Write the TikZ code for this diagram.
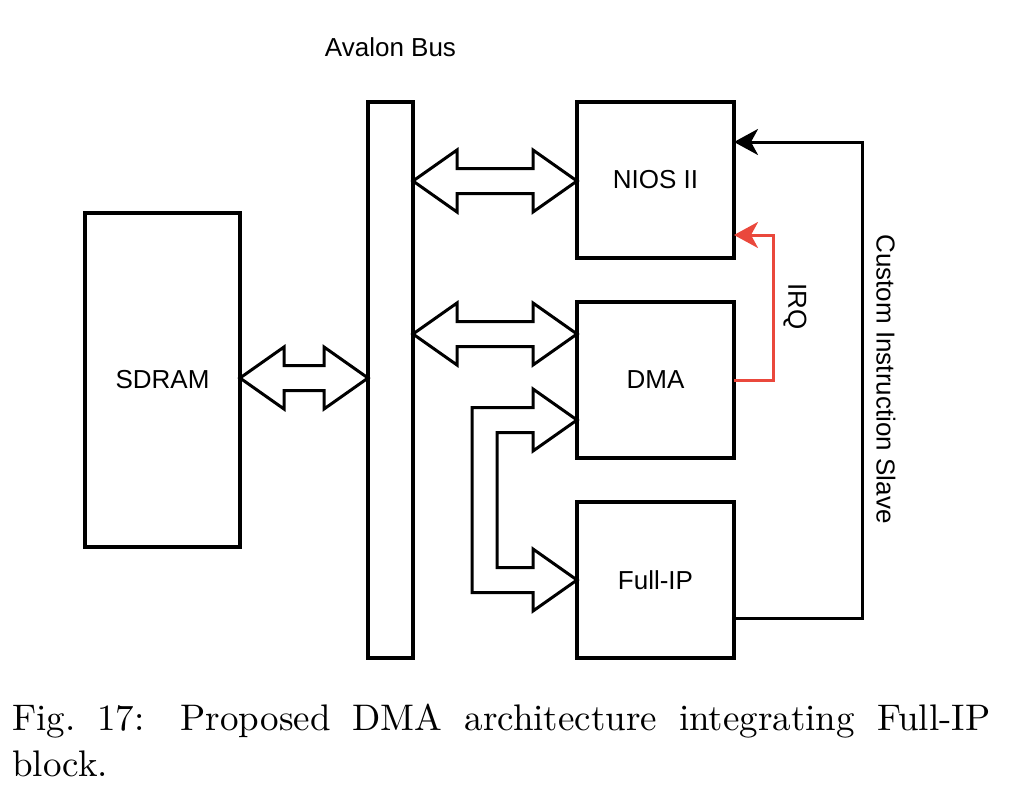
\documentclass[tikz,border=0pt]{standalone}
\usepackage{fontspec}
\newfontfamily\labfont{Liberation Sans}
\newfontfamily\capfont{lmroman10-regular.otf}
\usetikzlibrary{calc,arrows.meta}
\definecolor{irqred}{RGB}{234,72,60}
\tikzset{
  blk/.style={draw=black, line width=3.2pt, fill=white, rectangle, outer sep=0pt, inner sep=0pt,
    font=\labfont\fontsize{26}{30}\selectfont},
  lbl/.style={font=\labfont\fontsize{26}{30}\selectfont, inner sep=0pt},
  dbl/.style={draw=black, line width=3pt, line join=miter, fill=white},
  conn/.style={draw=black, line width=3pt, -{Stealth[length=24pt,width=26pt,inset=7pt]}},
  irq/.style={draw=irqred, line width=3pt, -{Stealth[length=24pt,width=26pt,inset=7pt]}},
}
\newcommand{\dblarrow}[2]{%
  \path[dbl] let \p1=(#1), \p2=(#2) in
   (\x1,\y1) -- (\x1+44pt,\y1+31pt) -- (\x1+44pt,\y1+12.5pt) -- (\x2-44pt,\y1+12.5pt)
   -- (\x2-44pt,\y1+31pt) -- (\x2,\y1) -- (\x2-44pt,\y1-31pt) -- (\x2-44pt,\y1-12.5pt)
   -- (\x1+44pt,\y1-12.5pt) -- (\x1+44pt,\y1-31pt) -- cycle;}
\begin{document}
\begin{tikzpicture}[x=1pt,y=-1pt]
\useasboundingbox (0,0) rectangle (1024,800);
% blocks
\node[blk, minimum width=155pt, minimum height=334pt] (sdram) at (162.5,380) {SDRAM};
\node[blk, minimum width=45pt, minimum height=556pt] (bus) at (390.5,380) {};
\node[blk, minimum width=157pt, minimum height=156pt] (nios) at (655.5,180) {NIOS II};
\node[blk, minimum width=157pt, minimum height=156pt] (dma) at (655.5,380) {DMA};
\node[blk, minimum width=157pt, minimum height=156pt] (fip) at (655.5,580) {Full-IP};
\node[lbl] (avalon) at (390.5,47) {Avalon Bus};
% anchor coordinates for the bus arrows
\coordinate (s1) at (sdram.east |- 0,378);
\coordinate (s2) at (bus.west |- 0,378);
\coordinate (n1) at (bus.east |- 0,181);
\coordinate (n2) at (nios.west |- 0,181);
\coordinate (d1) at (bus.east |- 0,334);
\coordinate (d2) at (dma.west |- 0,334);
\dblarrow{s1}{s2}
\dblarrow{n1}{n2}
\dblarrow{d1}{d2}
% L-shaped double arrow DMA <-> Full-IP
\coordinate (lt) at (dma.west |- 0,420);
\coordinate (lb) at (fip.west |- 0,580);
\path[dbl] let \p1=(lt), \p2=(lb) in
  (\x1,\y1) -- (\x1-44pt,\y1+31pt) -- (\x1-44pt,\y1+12.5pt) -- (\x1-105pt,\y1+12.5pt)
  -- (\x1-105pt,\y2-12.5pt) -- (\x2-44pt,\y2-12.5pt) -- (\x2-44pt,\y2-31pt) -- (\x2,\y2)
  -- (\x2-44pt,\y2+31pt) -- (\x2-44pt,\y2+12.5pt) -- (\x1-80pt,\y2+12.5pt)
  -- (\x1-80pt,\y1-12.5pt) -- (\x1-44pt,\y1-12.5pt) -- (\x1-44pt,\y1-31pt) -- cycle;
% Custom instruction slave
\coordinate (c1) at (fip.east |- 0,618);
\coordinate (c2) at (nios.east |- 0,142);
\draw[conn] (c1) -- (862,618) -- (862,142) -- (c2);
\node[lbl, rotate=-90] (cis) at (886,379) {Custom Instruction Slave};
% IRQ
\coordinate (i1) at (dma.east |- 0,380);
\coordinate (i2) at (nios.east |- 0,235);
\draw[irq] (i1) -- (773,380) -- (773,235) -- (i2);
\node[lbl, rotate=-90] (irqlbl) at (795,306.5) {IRQ};
% caption
\node[anchor=north west, inner sep=0pt, text width=978pt, align=justify,
      font=\capfont\fontsize{37}{45.5}\selectfont] (cap) at (12,704)
  {Fig.~17: Proposed DMA architecture integrating Full-IP\linebreak block.};
\end{tikzpicture}
\end{document}
